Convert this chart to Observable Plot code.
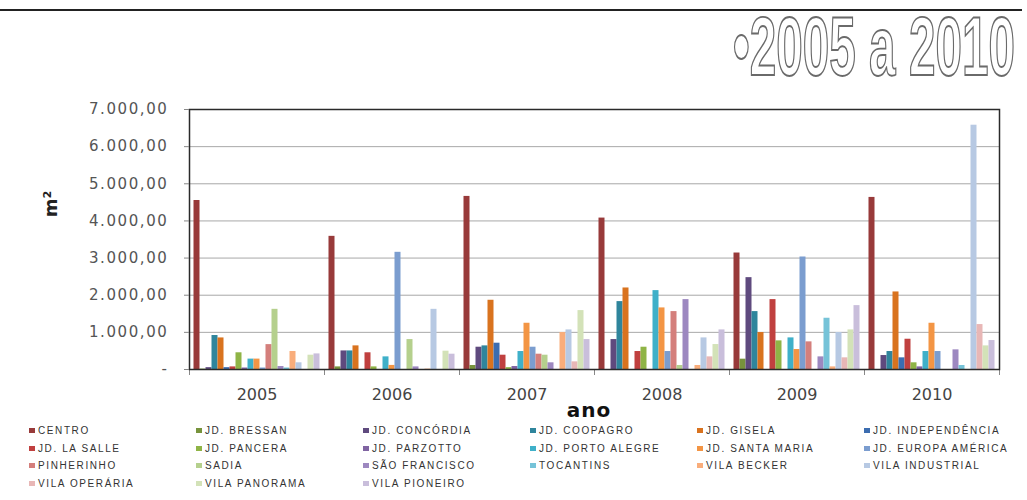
<!DOCTYPE html>
<html>
<head>
<meta charset="utf-8">
<script src="https://cdn.jsdelivr.net/npm/d3@7"></script>
<script src="https://cdn.jsdelivr.net/npm/@observablehq/plot@0.6"></script>
<style>
  body { margin: 0; background: #fff; }
  #wrap { position: relative; width: 1027px; height: 500px; overflow: hidden; font-family: "DejaVu Sans", sans-serif; }
  #chart { position: absolute; left: 0; top: 0; }
  #topline { position: absolute; left: 0; top: 9px; width: 1022px; height: 1.5px; background: #222; }
  #title { position: absolute; left: 730px; top: 0; overflow: visible; }
  #title text { font-family: "Liberation Sans", sans-serif; font-weight: bold; fill: #fff; stroke: #6a6a6a; stroke-width: 1.1px; }
  #ylab { position: absolute; left: 50px; top: 204px; transform: translate(-50%, -50%) rotate(-90deg); font-weight: bold; font-size: 18px; color: #222; white-space: nowrap; }
  #xlab { position: absolute; left: 589px; top: 400px; transform: translateX(-50%); font-weight: bold; font-size: 20px; letter-spacing: 1px; color: #111; line-height: 20px; }
  #legend { position: absolute; left: 29px; top: 422px; display: grid; grid-template-columns: repeat(6, 167px); grid-auto-rows: 17.5px; font-family: "Liberation Sans", Arial, sans-serif; font-size: 10px; letter-spacing: 1.6px; color: #333; }
  #legend .item { display: flex; align-items: center; white-space: nowrap; }
  #legend .sw { width: 6px; height: 5px; margin-right: 3px; flex: none; }
  #chart svg g[aria-label="y-axis tick label"] text { letter-spacing: 1.6px; }
</style>
</head>
<body>
<div id="wrap">
  <div id="chart"></div>
  <div id="topline"></div>
  <svg id="title" width="297" height="88"><text id="titleText" x="3" y="42.86" font-size="47" transform="scale(1,1.75)">•2005 a 2010</text></svg>
  <div id="ylab">m²</div>
  <div id="xlab">ano</div>
  <div id="legend"></div>
</div>
<script>
const years = ["2005", "2006", "2007", "2008", "2009", "2010"];
const series = [
  "CENTRO", "JD. BRESSAN", "JD. CONCÓRDIA", "JD. COOPAGRO", "JD. GISELA", "JD. INDEPENDÊNCIA",
  "JD. LA SALLE", "JD. PANCERA", "JD. PARZOTTO", "JD. PORTO ALEGRE", "JD. SANTA MARIA", "JD. EUROPA AMÉRICA",
  "PINHERINHO", "SADIA", "SÃO FRANCISCO", "TOCANTINS", "VILA BECKER", "VILA INDUSTRIAL",
  "VILA OPERÁRIA", "VILA PANORAMA", "VILA PIONEIRO"
];
const colors = [
  "#983a3a", "#77933c", "#5f4a7e", "#2f859c", "#d9731f", "#3c6db0",
  "#c0403f", "#8fb446", "#8064a2", "#3fb0c9", "#f39544", "#7b9dcf",
  "#d47f7c", "#b5d08d", "#9d88c0", "#76c3d8", "#f9ad7b", "#b7c9e3",
  "#e8b7b6", "#d3e2b8", "#c9bedb"
];
// values (m²) per year, in the order of `series`
const v2005 = [4550, 10, 50, 915, 850, 50, 70, 450, 40, 280, 280, 40, 670, 1620, 80, 40, 485, 180, 0, 385, 420];
const v2006 = [3585, 70, 500, 500, 636, 0, 450, 70, 0, 340, 110, 3155, 0, 806, 70, 0, 10, 1620, 0, 493, 412];
const v2007 = [4660, 108, 600, 636, 1864, 708, 385, 50, 80, 484, 1245, 600, 412, 385, 180, 0, 995, 1066, 206, 1586, 806];
const v2008 = [4077, 0, 806, 1828, 2195, 0, 484, 600, 0, 2124, 1658, 484, 1559, 108, 1882, 0, 108, 851, 340, 672, 1066];
const v2009 = [3136, 278, 2473, 1559, 995, 0, 1882, 771, 0, 851, 538, 3029, 744, 0, 340, 1380, 70, 995, 314, 1066, 1720];
const v2010 = [4633, 0, 376, 484, 2088, 314, 815, 180, 70, 484, 1245, 484, 0, 0, 529, 108, 0, 6577, 1210, 636, 780];
const yTicks = [0, 1000, 2000, 3000, 4000, 5000, 6000, 7000];
const yTickLabels = ["-", "1.000,00", "2.000,00", "3.000,00", "4.000,00", "5.000,00", "6.000,00", "7.000,00"];

const byYear = [v2005, v2006, v2007, v2008, v2009, v2010];
const data = [];
years.forEach((yr, j) => byYear[j].forEach((v, i) => data.push({year: yr, series: series[i], value: v})));

const chart = Plot.plot({
  width: 1027,
  height: 420,
  marginTop: 109,
  marginBottom: 51,
  marginLeft: 188,
  marginRight: 28,
  style: {fontFamily: "DejaVu Sans, sans-serif", background: "none"},
  fx: {domain: years, padding: 0, label: null},
  x: {domain: series, paddingInner: 0, paddingOuter: 0.75, axis: null, round: false},
  y: {domain: [0, 7000], label: null},
  color: {domain: series, range: colors},
  marks: [
    Plot.gridY(yTicks, {stroke: "#a8a8a8", strokeOpacity: 1}),
    Plot.barY(data, {fx: "year", x: "series", y: "value", fill: "series"}),
    Plot.frame({anchor: "left", insetTop: 260, insetBottom: -5, stroke: "#888"}),
    Plot.frame({anchor: "right", insetTop: 260, insetBottom: -5, stroke: "#888"}),
    Plot.frame({facet: "super", stroke: "#2a2a2a", strokeWidth: 1.5}),
    Plot.axisY(yTicks, {
      tickFormat: d => yTickLabels[yTicks.indexOf(d)],
      tickSize: 5, tickPadding: 16, fontSize: 15, color: "#555", stroke: "#888", label: null
    }),
    Plot.axisFx({anchor: "bottom", tickSize: 0, tickPadding: 19, fontSize: 16, color: "#444", label: null})
  ]
});
document.getElementById("chart").appendChild(chart);

// fit the outlined title's natural width to the reference box (≈282 px)
const tt = document.getElementById("titleText");
const nat = tt.getComputedTextLength();
tt.setAttribute("font-size", (47 * 282 / nat).toFixed(2));

const legend = document.getElementById("legend");
series.forEach((s, i) => {
  const item = document.createElement("div");
  item.className = "item";
  const sw = document.createElement("span");
  sw.className = "sw";
  sw.style.background = colors[i];
  const t = document.createElement("span");
  t.textContent = s;
  item.appendChild(sw);
  item.appendChild(t);
  legend.appendChild(item);
});
</script>
</body>
</html>
